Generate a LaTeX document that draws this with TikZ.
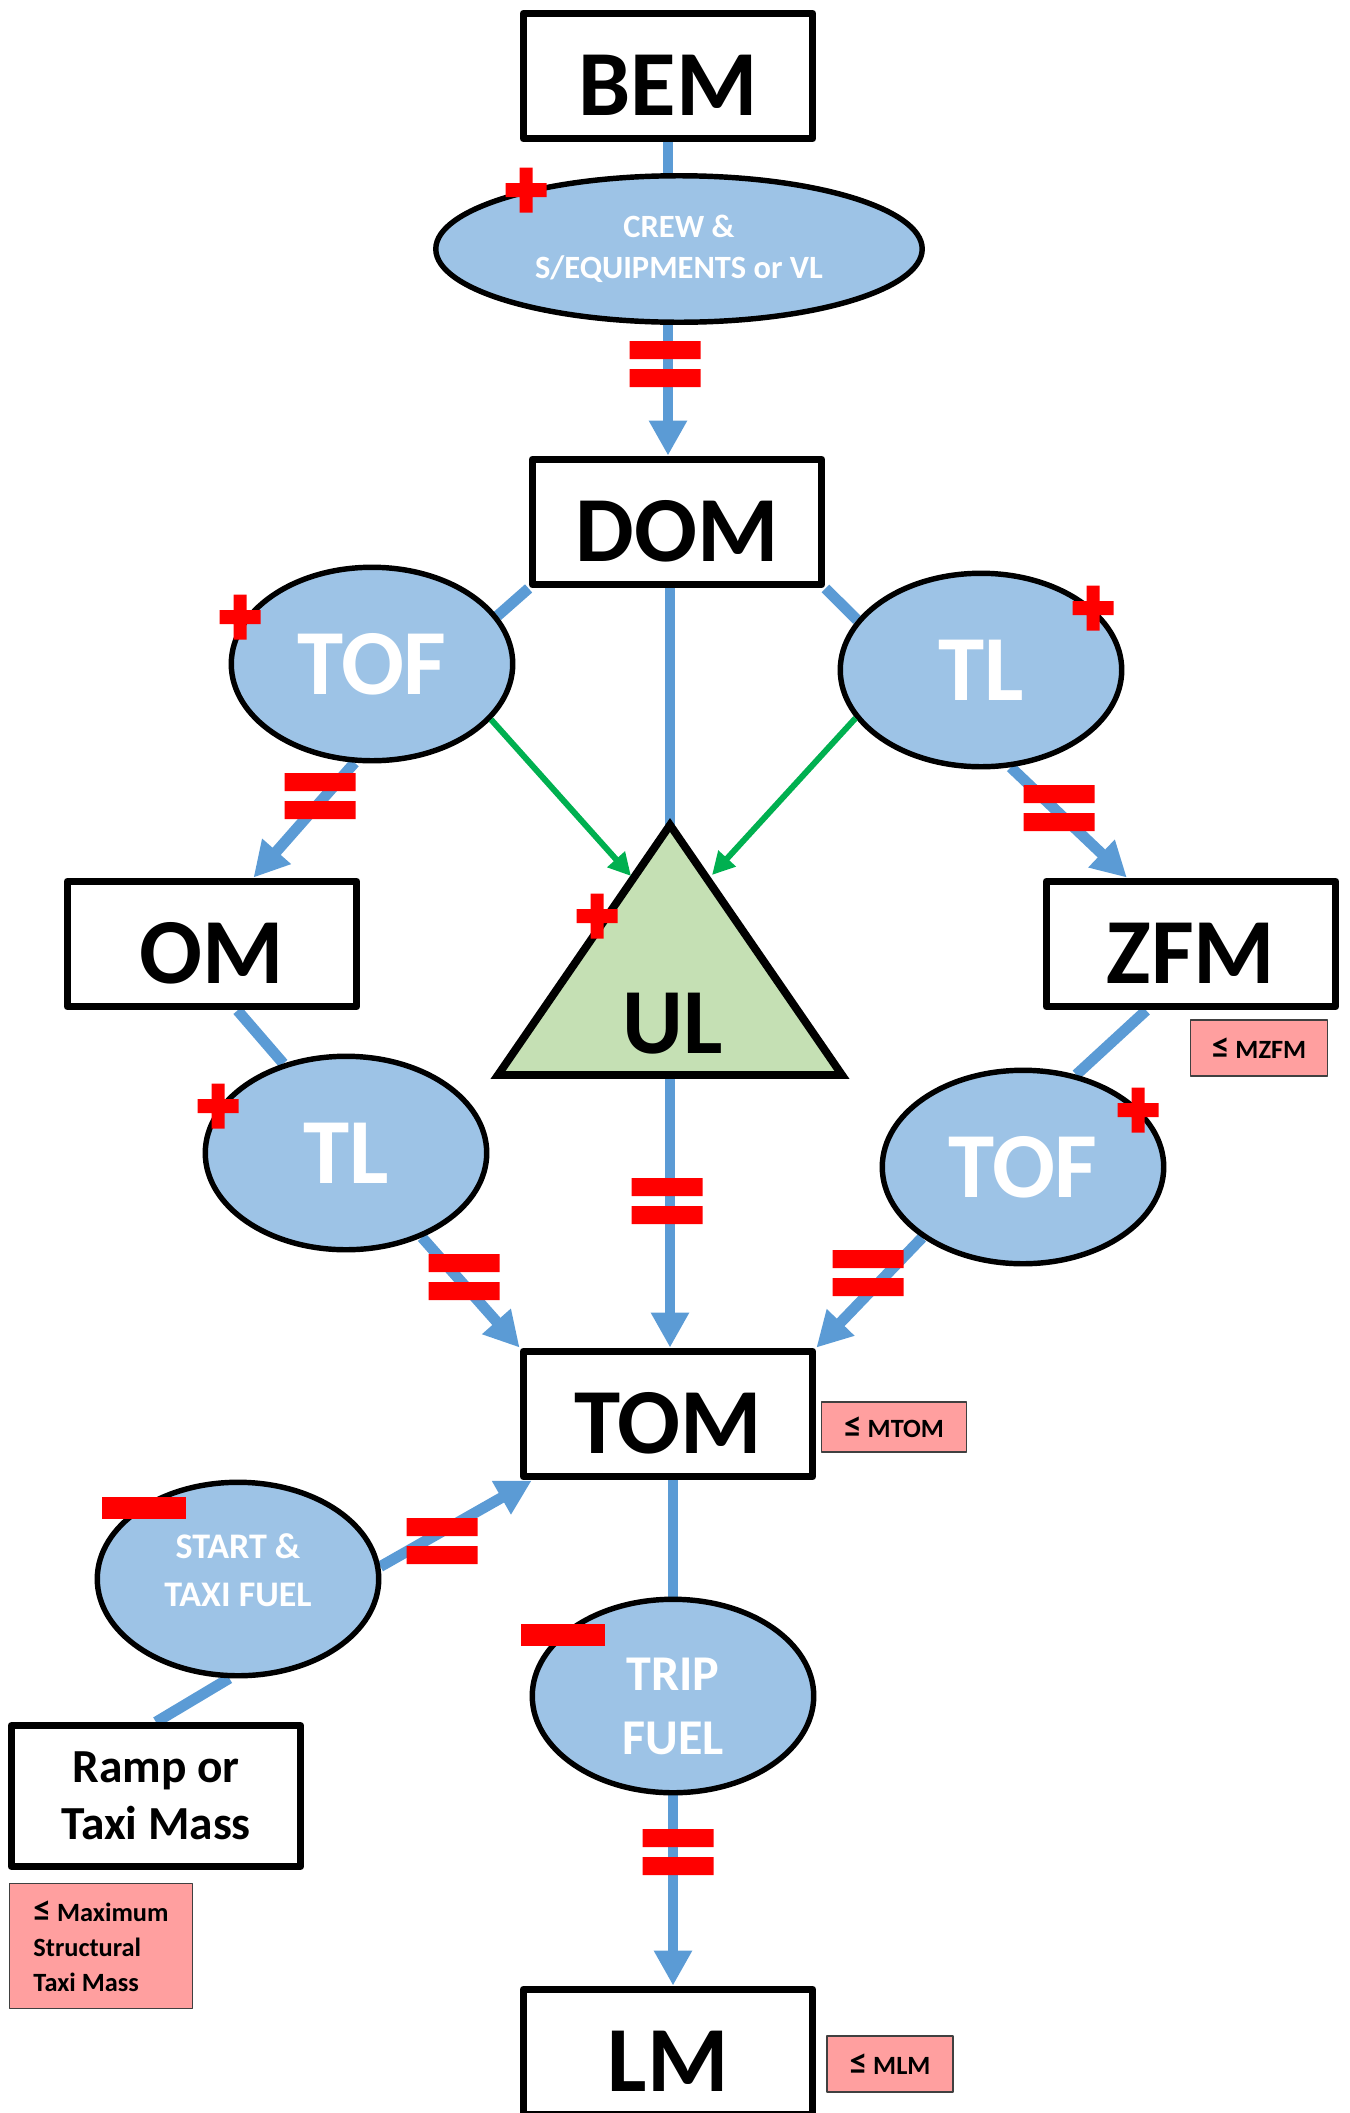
\documentclass[tikz,border=0pt]{standalone}
\usepackage{fontspec}
\setmainfont{Carlito}
\usetikzlibrary{shapes.geometric,arrows.meta}
\definecolor{lineblue}{HTML}{5B9BD5}
\definecolor{ovalblue}{HTML}{9DC3E6}
\definecolor{ulgreen}{HTML}{C5E0B4}
\definecolor{arrgreen}{HTML}{00B050}
\definecolor{limitpink}{HTML}{FF9F9F}
\newcommand{\lesym}{\scalebox{1.35}{≤}}
\pgfdeclarelayer{bg}
\pgfsetlayers{bg,main}
\begin{document}
\begin{tikzpicture}[x=0.02cm,y=-0.02cm,line join=round,
	frame/.style={draw,line width=4.2pt,fill=white,minimum width=5.79cm,minimum height=2.51cm,inner sep=0pt},
	box/.style={frame,font=\fontsize{53}{60}\selectfont\bfseries,text height=45pt,text depth=0pt},
	oval/.style={ellipse,draw,line width=3.1pt,fill=ovalblue,minimum width=5.63cm,minimum height=3.87cm,inner sep=0pt,text=white,font=\fontsize{53}{60}\selectfont\bfseries,align=center},
	ovaltext/.style={text=white,align=center},
	note/.style={draw=black!75,line width=0.7pt,fill=limitpink,inner sep=0pt,font=\fontsize{15}{20}\selectfont\bfseries,align=left},
	link/.style={lineblue,line width=6.2pt},
	linkarr/.style={link,-{Triangle[length=0.7cm,width=0.72cm]}},
	feed/.style={arrgreen,line width=3.4pt,-{Triangle[length=0.45cm,width=0.45cm]}}]
	\useasboundingbox (0,0) rectangle (1349,2113);
	\tikzset{plus/.pic={\fill[red] (-20.5,-7) rectangle (20.5,7) (-6.5,-22.5) rectangle (6.5,22.5);}}
	\tikzset{minus/.pic={\fill[red] (-42,-11) rectangle (42,11);}}
	\tikzset{eqs/.pic={\fill[red] (-35.5,-23) rectangle (35.5,-5) (-35.5,5) rectangle (35.5,23);}}
	\node[box] (BEM) at (668,76) {BEM};
	\node[oval,font=\fontsize{18.5}{23.2}\selectfont\bfseries,minimum width=9.73cm,minimum height=2.93cm] (crew) at (679,249) {CREW \&\\S/EQUIPMENTS or VL};
	\node[box] (DOM) at (677,522) {DOM};
	\node[oval] (TOFa) at (372,664) {TOF};
	\node[oval] (TLb) at (981,670) {TL};
	\node[box] (OM) at (212,944) {OM};
	\node[box] (ZFM) at (1191,944) {ZFM};
	\node[note,minimum width=2.74cm,minimum height=1.12cm] (mzfm) at (1259,1048) {\lesym{} MZFM};
	%tam giác UL
	\coordinate (apex) at (670,825);
	\coordinate (bl) at (498,1075);
	\coordinate (br) at (842,1075);
	\coordinate (ULbase) at (670,1075);
	\coordinate (ULl) at (631,876);
	\coordinate (ULr) at (712,875);
	\draw[fill=ulgreen,line width=4.5pt,line join=miter] (apex)--(bl)--(br)--cycle;
	\node[font=\fontsize{53}{60}\selectfont\bfseries] (UL) at (673,1024) {UL};
	\node[oval] (TLa) at (346,1153) {TL};
	\node[oval] (TOFb) at (1023,1167) {TOF};
	\node[box] (TOM) at (668,1414) {TOM};
	\node[note,minimum width=2.9cm,minimum height=1cm] (mtom) at (894,1427) {\lesym{} MTOM};
	\node[oval,label={[ovaltext,font=\fontsize{20.5}{27.5}\selectfont\bfseries,yshift=5pt]center:START \&\\TAXI FUEL}] (START) at (238,1579) {};
	\node[oval,label={[ovaltext,font=\fontsize{28.5}{36}\selectfont\bfseries,yshift=-6pt]center:TRIP\\FUEL}] (TRIP) at (673,1696) {};
	\node[frame,align=center,font=\fontsize{27}{32.4}\selectfont\bfseries,minimum height=2.81cm] (ramp) at (156,1796) {Ramp or\\Taxi Mass};
	\node[note,minimum width=3.66cm,minimum height=2.5cm] (mtaxi) at (101,1946) {\lesym{} Maximum\\Structural\\Taxi Mass};
	\node[box] (LM) at (668,2052) {LM};
	\node[note,minimum width=2.52cm,minimum height=1.12cm] (mlm) at (890,2064) {\lesym{} MLM};
	\begin{pgfonlayer}{bg}
	\draw[link] (BEM.south) -- (BEM.south |- crew.north);
	\draw[linkarr] (BEM.south |- crew.south) -- (BEM.south |- DOM.north);
	\draw[link] (DOM.south west) -- (TOFa.21);
	\draw[link] (DOM.south east) -- (TLb.158);
	\draw[link] (apex |- DOM.south) -- (apex);
	\draw[linkarr] (TOFa.-100) -- (OM.58);
	\draw[linkarr] (TLb.-73) -- (ZFM.134);
	\draw[link] (OM.-69) -- (TLa.125);
	\draw[link] (ZFM.-124) -- (TOFb.60);
	\draw[linkarr] (ULbase) -- (ULbase |- TOM.north);
	\draw[linkarr] (TLa.-48) -- (TOM.north west);
	\draw[linkarr] (TOFb.-145) -- (TOM.north east);
	\draw[linkarr] (START.5) -- (TOM.-154);
	\draw[link] (ramp.north) -- (START.-95);
	\draw[link] (TRIP.north |- TOM.south) -- (TRIP.north);
	\draw[linkarr] (TRIP.south) -- (TRIP.south |- LM.north);
	\end{pgfonlayer}
	\draw[feed] (TOFa.-25) -- (ULl);
	\draw[feed] (TLb.-159) -- (ULr);
	%dấu
	\foreach \x/\y in {665/364,320/796,1059/808,667/1201,464/1277,868/1273,442/1541,678/1852} \path (\x,\y) pic{eqs};
	\foreach \x/\y in {526/190,240/617,1093/608,597/916,218/1106,1138/1110} \path (\x,\y) pic{plus};
	\foreach \x/\y in {144/1508,563/1635} \path (\x,\y) pic{minus};
\end{tikzpicture}
\end{document}
